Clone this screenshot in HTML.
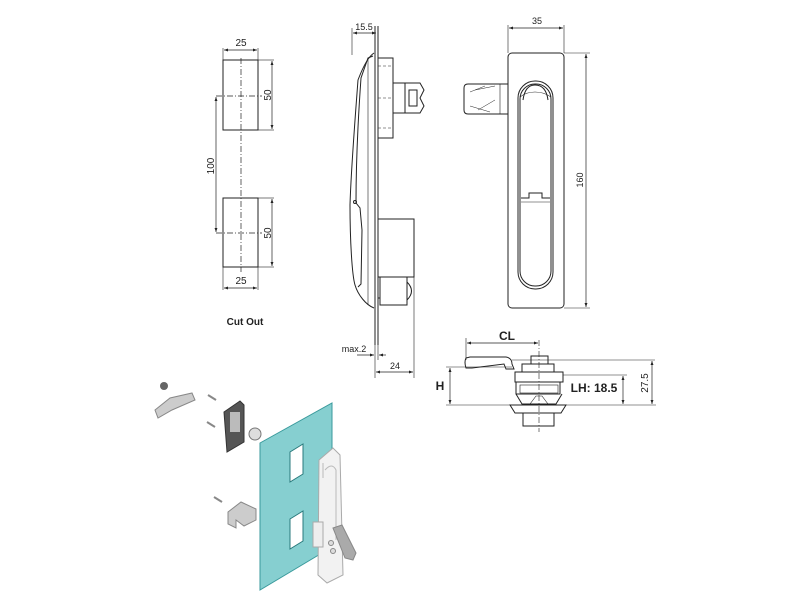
<!DOCTYPE html>
<html><head><meta charset="utf-8"><style>
html,body{margin:0;padding:0;background:#fff;width:800px;height:600px;overflow:hidden}
svg{display:block}
text{font-family:"Liberation Sans",sans-serif;fill:#222}
</style></head><body>
<svg width="800" height="600" viewBox="0 0 800 600" xmlns="http://www.w3.org/2000/svg">
<defs>
<marker id="a" markerWidth="6" markerHeight="6" refX="6" refY="3" orient="auto-start-reverse"><path d="M0,0.8 L6,3 L0,5.2z" fill="#222"/></marker>
</defs>
<g stroke="#222" stroke-width="1" fill="none">
<!-- Cut out -->
<rect x="223" y="60" width="35" height="70"/>
<rect x="223" y="198" width="35" height="69"/>
<line x1="241" y1="58" x2="241" y2="272" stroke-dasharray="6,2,1,2" stroke-width="0.7"/>
<line x1="216" y1="96" x2="262" y2="96" stroke-dasharray="6,2,1,2" stroke-width="0.7"/>
<line x1="216" y1="233" x2="262" y2="233" stroke-dasharray="6,2,1,2" stroke-width="0.7"/>
<line x1="223" y1="60" x2="223" y2="48" stroke-width="0.6"/><line x1="258" y1="60" x2="258" y2="48" stroke-width="0.6"/>
<line x1="224" y1="50" x2="257" y2="50" stroke-width="0.7" marker-start="url(#a)" marker-end="url(#a)"/>
<line x1="223" y1="267" x2="223" y2="290" stroke-width="0.6"/><line x1="258" y1="267" x2="258" y2="290" stroke-width="0.6"/>
<line x1="224" y1="288" x2="257" y2="288" stroke-width="0.7" marker-start="url(#a)" marker-end="url(#a)"/>
<line x1="258" y1="60" x2="274" y2="60" stroke-width="0.6"/><line x1="258" y1="130" x2="274" y2="130" stroke-width="0.6"/>
<line x1="272" y1="61" x2="272" y2="129" stroke-width="0.7" marker-start="url(#a)" marker-end="url(#a)"/>
<line x1="258" y1="198" x2="274" y2="198" stroke-width="0.6"/><line x1="258" y1="267" x2="274" y2="267" stroke-width="0.6"/>
<line x1="272" y1="199" x2="272" y2="266" stroke-width="0.7" marker-start="url(#a)" marker-end="url(#a)"/>
<line x1="216" y1="97" x2="216" y2="232" stroke-width="0.7" marker-start="url(#a)" marker-end="url(#a)"/>

<!-- Side view -->
<line x1="375" y1="26" x2="375" y2="345"/><line x1="378" y1="26" x2="378" y2="345"/>
<path d="M374,53 C366,58 360,75 358,80 C355,120 351,170 350,205 C350,240 352,275 355,285 C358,295 366,305 374,308" />
<path d="M373,56 L368,58 L361,78 C358,120 356,170 356,203"/>
<path d="M356,203 L360,208 L362,230 L361,284 L358,287"/>
<path d="M368,60 L368,305" stroke-width="0.6"/>
<circle cx="355" cy="202" r="1.5"/>
<rect x="378" y="58" width="15" height="80"/>
<line x1="378" y1="66" x2="392" y2="66" stroke-dasharray="3,2" stroke-width="0.5"/>
<line x1="378" y1="98" x2="392" y2="98" stroke-dasharray="3,2" stroke-width="0.5"/>
<line x1="378" y1="128" x2="392" y2="128" stroke-dasharray="3,2" stroke-width="0.5"/>
<rect x="393" y="83" width="12" height="30"/>
<path d="M405,83 L420,83 L424,90 L420,98 L424,106 L420,113 L405,113z"/>
<rect x="409" y="90" width="8" height="16"/>
<rect x="378" y="219" width="36" height="58"/>
<rect x="380" y="277" width="27" height="28"/>
<path d="M407,282 Q416,291 407,300"/>
<line x1="378" y1="298" x2="380" y2="298"/>
<!-- side dims -->
<line x1="352" y1="55" x2="352" y2="28" stroke-width="0.6"/>
<line x1="353" y1="33" x2="376" y2="33" stroke-width="0.7" marker-start="url(#a)" marker-end="url(#a)"/>
<line x1="375" y1="345" x2="375" y2="378" stroke-width="0.6"/><line x1="414" y1="277" x2="414" y2="378" stroke-width="0.6"/>
<line x1="376" y1="372" x2="413" y2="372" stroke-width="0.7" marker-start="url(#a)" marker-end="url(#a)"/>
<line x1="357" y1="355" x2="374" y2="355" stroke-width="0.7" marker-end="url(#a)"/>
<line x1="386" y1="355" x2="379" y2="355" stroke-width="0.7" marker-end="url(#a)"/>
<line x1="378" y1="345" x2="378" y2="360" stroke-width="0.6"/>

<!-- Front view -->
<rect x="508" y="53" width="56" height="255" rx="4"/>
<rect x="518" y="81" width="35" height="208" rx="17"/>
<rect x="520" y="84" width="31" height="202" rx="15"/>
<path d="M523,100 Q525,85 535,85 Q546,85 548,100"/>
<path d="M520,97 Q526,92 535,92 Q544,92 551,97" stroke-width="0.6"/>
<path d="M521,198 L529,198 L529,193 L542,193 L542,198 L550,198"/>
<line x1="521" y1="202" x2="550" y2="202" stroke-width="0.6"/>
<path d="M508,84 L468,84 Q464,84 464,88 L464,110 Q464,114 468,114 L508,114"/>
<line x1="500" y1="84" x2="500" y2="114" stroke-width="0.6"/>
<path d="M470,92 L485,86 M470,106 L490,112 M475,90 L495,86 M478,110 L495,100" stroke-width="0.5"/>
<line x1="508" y1="53" x2="508" y2="25" stroke-width="0.6"/><line x1="564" y1="53" x2="564" y2="25" stroke-width="0.6"/>
<line x1="509" y1="28" x2="563" y2="28" stroke-width="0.7" marker-start="url(#a)" marker-end="url(#a)"/>
<line x1="564" y1="53" x2="590" y2="53" stroke-width="0.6"/><line x1="564" y1="308" x2="590" y2="308" stroke-width="0.6"/>
<line x1="586" y1="54" x2="586" y2="307" stroke-width="0.7" marker-start="url(#a)" marker-end="url(#a)"/>

<!-- Bottom view -->
<line x1="466" y1="360" x2="466" y2="338" stroke-width="0.6"/>
<line x1="467" y1="343" x2="538" y2="343" stroke-width="0.7" marker-start="url(#a)" marker-end="url(#a)"/>
<line x1="539" y1="340" x2="539" y2="432" stroke-dasharray="6,2,1,2" stroke-width="0.6"/>
<path d="M466,358 L470,357 L506,357 Q512,358 512,364 L514,369 L506,369 L504,364 L472,368 L466,368 Q464,362 466,358z"/>
<line x1="512" y1="360" x2="655" y2="360" stroke-width="0.6"/>
<rect x="531" y="356" width="17" height="8"/>
<rect x="522" y="364" width="32" height="8"/>
<rect x="515" y="372" width="48" height="10"/>
<path d="M516,382 L516,394 L560,394 L560,382"/>
<rect x="520" y="385" width="38" height="8" stroke-width="0.6"/>
<path d="M516,394 L522,404 L556,404 L562,394"/>
<path d="M530,404 L536,396 L542,396 L548,404" stroke-width="0.6"/>
<path d="M510,405 L566,405 L561,413 L515,413z"/>
<rect x="523" y="413" width="31" height="13"/>
<line x1="446" y1="367" x2="512" y2="367" stroke-width="0.6"/>
<line x1="446" y1="405" x2="656" y2="405" stroke-width="0.6"/>
<line x1="450" y1="368" x2="450" y2="404" stroke-width="0.7" marker-start="url(#a)" marker-end="url(#a)"/>
<line x1="563" y1="375" x2="627" y2="375" stroke-width="0.6"/>
<line x1="623" y1="376" x2="623" y2="404" stroke-width="0.7" marker-start="url(#a)" marker-end="url(#a)"/>
<line x1="652" y1="361" x2="652" y2="404" stroke-width="0.7" marker-start="url(#a)" marker-end="url(#a)"/>
</g>

<!-- text -->
<g font-size="10">
<text x="241" y="46" text-anchor="middle">25</text>
<text x="241" y="284" text-anchor="middle">25</text>
<text transform="translate(271,95) rotate(-90)" text-anchor="middle">50</text>
<text transform="translate(271,233) rotate(-90)" text-anchor="middle">50</text>
<text transform="translate(214,166) rotate(-90)" text-anchor="middle">100</text>
<text x="245" y="325" text-anchor="middle" font-weight="bold" font-size="10">Cut Out</text>
<text x="364" y="30" text-anchor="middle" font-size="9">15.5</text>
<text x="354" y="352" text-anchor="middle" font-size="9">max.2</text>
<text x="395" y="369" text-anchor="middle" font-size="9">24</text>
<text x="537" y="24" text-anchor="middle" font-size="9">35</text>
<text transform="translate(583,180) rotate(-90)" text-anchor="middle" font-size="9">160</text>
<text x="507" y="340" text-anchor="middle" font-weight="bold" font-size="12">CL</text>
<text x="440" y="390" text-anchor="middle" font-weight="bold" font-size="12">H</text>
<text x="594" y="392" text-anchor="middle" font-weight="bold" font-size="12">LH: 18.5</text>
<text transform="translate(648,383) rotate(-90)" text-anchor="middle" font-size="10">27.5</text>
</g>

<!-- Isometric -->
<polygon points="260,443 332,403 332,547 260,590" fill="#86cfd0" stroke="#3a9a9c" stroke-width="1"/>
<polygon points="290,452 303,444 303,474 290,482" fill="#fff" stroke="#2a7a7c"/>
<polygon points="290,519 303,511 303,541 290,549" fill="#fff" stroke="#2a7a7c"/>
<path d="M319,460 L333,448 L340,455 L343,575 L327,583 L318,575z" fill="#f2f2f2" stroke="#aaa"/>
<path d="M323,463 L323,478 M325,470 Q332,462 336,470 L336,540" fill="none" stroke="#bbb"/>
<rect x="313" y="522" width="10" height="25" fill="#eee" stroke="#aaa"/>
<path d="M333,528 L342,525 L356,553 L353,560 L345,558z" fill="#aaa" stroke="#888"/>
<circle cx="331" cy="543" r="2.5" fill="#ddd" stroke="#888"/><circle cx="333" cy="551" r="2.5" fill="#ddd" stroke="#888"/>
<!-- small parts -->
<path d="M224,412 L240,401 L244,405 L244,442 L227,452z" fill="#555" stroke="#333"/>
<rect x="230" y="412" width="10" height="20" fill="#bbb"/>
<circle cx="255" cy="434" r="6" fill="#ddd" stroke="#777"/>
<path d="M155,410 L170,398 L192,393 L195,400 L172,410 L158,418z" fill="#ccc" stroke="#888"/>
<circle cx="164" cy="386" r="4" fill="#666"/>
<line x1="208" y1="395" x2="216" y2="400" stroke="#888" stroke-width="2"/>
<line x1="207" y1="422" x2="215" y2="427" stroke="#888" stroke-width="2"/>
<line x1="214" y1="497" x2="222" y2="502" stroke="#888" stroke-width="2"/>
<path d="M228,512 L241,502 L256,509 L256,520 L244,526 L236,520 L236,528 L228,524z" fill="#ccc" stroke="#888"/>
</svg>
</body></html>
